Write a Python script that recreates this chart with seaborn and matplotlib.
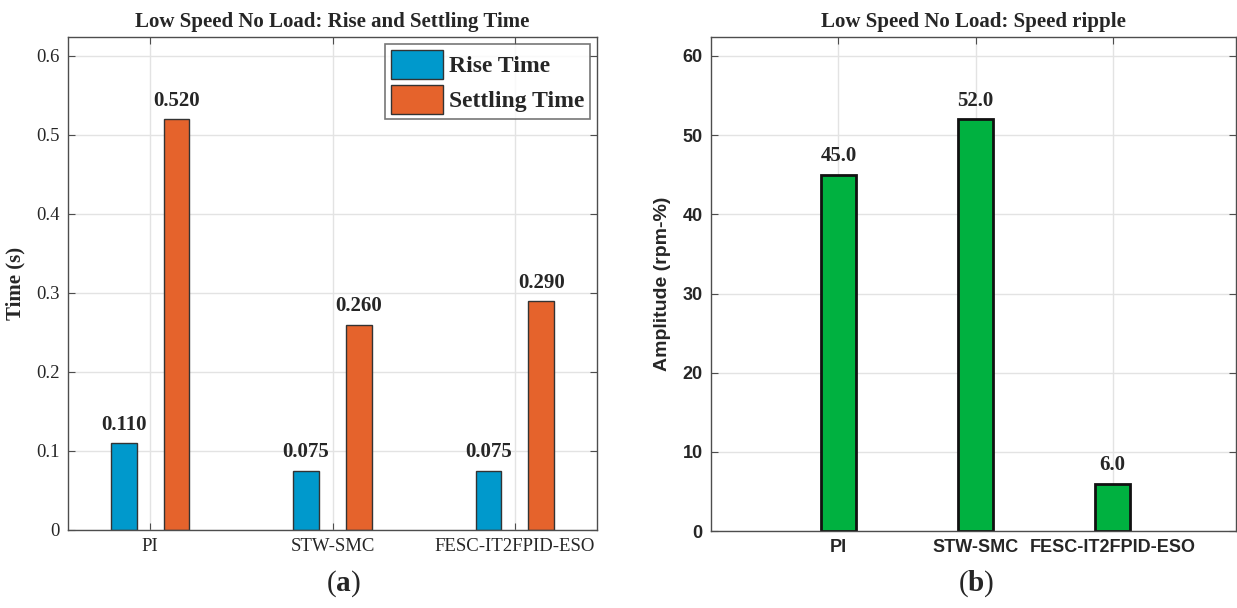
import numpy as np
import pandas as pd
import matplotlib
matplotlib.use("Agg")
import matplotlib.pyplot as plt
import seaborn as sns

controllers = ["PI", "STW-SMC", "FESC-IT2FPID-ESO"]
rise_time = [0.110, 0.075, 0.075]
settling_time = [0.520, 0.260, 0.290]
speed_ripple = [45.0, 52.0, 6.0]
metric_names = ["Rise Time", "Settling Time"]

sns.set_theme(style="white")
plt.rcParams["font.family"] = ["Liberation Serif", "DejaVu Serif"]
plt.rcParams["mathtext.fontset"] = "custom"
plt.rcParams["mathtext.rm"] = "Liberation Serif"
plt.rcParams["mathtext.bf"] = "Liberation Serif:bold"

blue = "#0099CC"
orange = "#E5632C"
green = "#00B140"
grid_col = "#E3E3E3"
frame_col = "#4D4D4D"

W, H = 1237, 608
fig = plt.figure(figsize=(W / 100, H / 100), dpi=100)

def px_axes(x0, y0, x1, y1):
    return fig.add_axes([x0 / W, 1 - y1 / H, (x1 - x0) / W, (y1 - y0) / H])

ax1 = px_axes(68, 37, 597, 530)
ax2 = px_axes(711, 37, 1236, 531)

def matlab_box(ax):
    for s in ax.spines.values():
        s.set_color(frame_col)
        s.set_linewidth(1.0)
    ax.tick_params(axis="both", which="both", direction="in", length=5,
                   width=0.8, color=frame_col, top=True, right=True,
                   bottom=True, left=True, pad=6)
    ax.grid(True, color=grid_col, linewidth=1.0)
    ax.set_axisbelow(True)

# ---- (a) rise and settling time ----
df_t = pd.DataFrame({
    "controller": controllers * 2,
    "metric": [metric_names[0]] * 3 + [metric_names[1]] * 3,
    "value": rise_time + settling_time,
})
sns.barplot(data=df_t, x="controller", y="value", hue="metric",
            order=controllers, hue_order=metric_names,
            palette=[blue, orange], width=0.58, gap=0.51,
            edgecolor="#333333", linewidth=1.0, saturation=1, errorbar=None,
            ax=ax1)
ax1.set_xlim(-0.45, 2.45)
ax1.set_ylim(0, max(settling_time) * 1.2)
ax1.set_yticks(np.arange(0, 0.61, 0.1))
ax1.set_yticklabels(["0", "0.1", "0.2", "0.3", "0.4", "0.5", "0.6"])
matlab_box(ax1)
ax1.tick_params(labelsize=13.5)
ax1.set_xlabel("")
ax1.set_ylabel("Time (s)", fontsize=15, fontweight="bold", labelpad=8)
ax1.set_title("Low Speed No Load: Rise and Settling Time", fontsize=15,
              fontweight="bold", pad=7)
for cont in ax1.containers:
    ax1.bar_label(cont, fmt="%.3f", padding=6, fontsize=15, fontweight="bold")
leg = ax1.legend(loc="upper right", fontsize=17, frameon=True, fancybox=False,
                 handlelength=2.2, handleheight=1.5, borderaxespad=0.3,
                 labelspacing=0.25, handletextpad=0.25, borderpad=0.25)
leg.get_frame().set_edgecolor("#555555")
leg.get_frame().set_linewidth(1.2)
for t in leg.get_texts():
    t.set_fontweight("bold")

# ---- (b) speed ripple ----
df_r = pd.DataFrame({"controller": controllers, "ripple": speed_ripple})
sns.barplot(data=df_r, x="controller", y="ripple", order=controllers,
            color=green, width=0.25, edgecolor="#111111", linewidth=2.0,
            saturation=1, errorbar=None, ax=ax2)
ax2.set_xlim(-0.93, 2.9)
ax2.set_ylim(0, max(speed_ripple) * 1.2)
ax2.set_yticks(np.arange(0, 61, 10))
matlab_box(ax2)
ax2.tick_params(labelsize=13)
for lab in ax2.get_xticklabels() + ax2.get_yticklabels():
    lab.set_fontfamily(["Liberation Sans", "DejaVu Sans"])
    lab.set_fontweight("bold")
ax2.set_xlabel("")
ax2.set_ylabel("Amplitude (rpm-%)", fontsize=14, fontweight="bold",
               fontfamily=["Liberation Sans", "DejaVu Sans"], labelpad=8)
ax2.set_title("Low Speed No Load: Speed ripple", fontsize=15,
              fontweight="bold", pad=7)
for cont in ax2.containers:
    ax2.bar_label(cont, fmt="%.1f", padding=6, fontsize=15, fontweight="bold")

# panel captions
fig.text(343 / W, 1 - 584 / H, r"($\mathbf{a}$)", ha="center", va="center",
         fontsize=21)
fig.text(976 / W, 1 - 584 / H, r"($\mathbf{b}$)", ha="center", va="center",
         fontsize=21)

fig.savefig("out.png", dpi=100)
